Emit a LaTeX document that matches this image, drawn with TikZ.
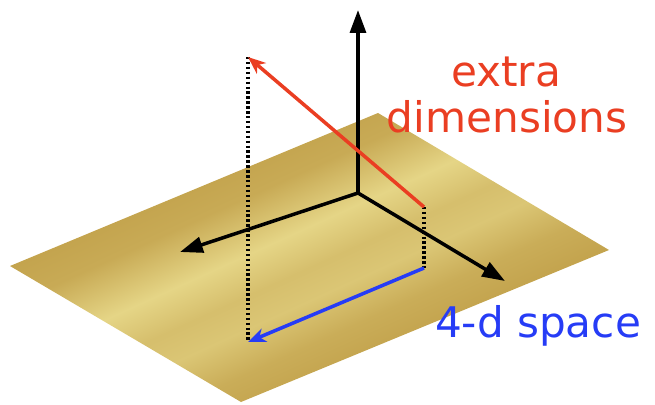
\documentclass[tikz,border=0pt]{standalone}
\usepackage{fontspec}
\newfontfamily\handfont{DejaVu Sans}
\usetikzlibrary{arrows.meta,calc}
\definecolor{goldlt}{RGB}{229,213,134}
\definecolor{golddk}{RGB}{195,163,77}
\definecolor{xred}{RGB}{234,62,34}
\definecolor{sblue}{RGB}{38,60,246}
\pgfdeclarehorizontalshading{plate}{100bp}{color(0bp)=(golddk); color(27bp)=(golddk);
  color(34.6bp)=(golddk!85!goldlt); color(44.6bp)=(goldlt); color(51.9bp)=(golddk!45!goldlt);
  color(57.7bp)=(golddk!30!goldlt); color(65.4bp)=(golddk!80!goldlt); color(72.7bp)=(golddk);
  color(100bp)=(golddk)}
\tikzset{
  %% black axes
  axarr/.style={-{Triangle[length=13pt,width=9pt]},line width=2pt,color=black},
  %% red extra-dimension arrow
  rarr/.style={-{Stealth[length=10pt,width=8pt,inset=3pt]},line width=2pt,color=xred},
  %% blue projection arrow
  barr/.style={-{Stealth[length=10pt,width=8pt,inset=3pt]},line width=2pt,color=sblue},
  %% dotted drop lines
  drop/.style={line width=2pt,dash pattern=on 1.4pt off 1.4pt,color=black},
  lbl/.style={font=\handfont\fontsize{24}{28}\selectfont,inner sep=0pt,anchor=base},
}
\begin{document}
\begin{tikzpicture}[x=0.02cm,y=-0.02cm]
  \useasboundingbox (0,0) rectangle (655,405);
  %% the brane
  \begin{scope}
    \clip (10,266) -- (378,113) -- (609,250) -- (241,402) -- cycle;
    \shade[shading=plate,transform canvas={shift={(310,257)},rotate=-65.5}]
      (-130,-400) rectangle (130,400);
  \end{scope}

  \coordinate (O)  at (358,193);
  \coordinate (up) at (358,10);
  \coordinate (lt) at (180,252);
  \coordinate (rt) at (505,281);
  \coordinate (a)  at (424,207);
  \coordinate (b)  at (248,57);
  \coordinate (c)  at (424,268);
  \coordinate (d)  at (248,342);

  \draw[axarr] (O) -- (up);
  \draw[axarr] (O) -- (lt);
  \draw[axarr] (O) -- (rt);

  \draw[drop] (b) -- (d);
  \draw[drop] (a) -- (c);
  \draw[rarr] (a) -- (b);
  \draw[barr] (c) -- (d);

  \node[lbl,text=xred] (extra) at (506,87) {extra};
  \node[lbl,text=xred] (dims)  at (507,133) {dimensions};
  \node[lbl,text=sblue] (space) at (538,337) {4-d space};
\end{tikzpicture}
\end{document}
